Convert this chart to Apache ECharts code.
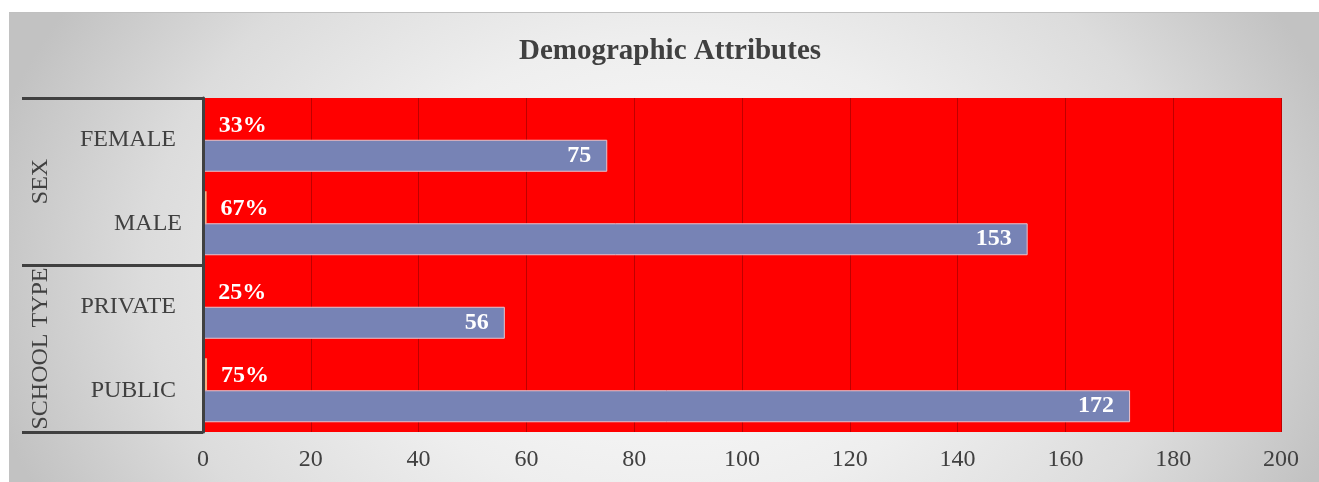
<!DOCTYPE html>
<html>
<head>
<meta charset="utf-8">
<script src="https://cdn.jsdelivr.net/npm/echarts@6/dist/echarts.min.js"></script>
<style>
  html, body { margin: 0; padding: 0; background: #ffffff; }
  #frame {
    position: absolute; left: 9px; top: 12px; width: 1310px; height: 470px;
    border-top: 1px solid #c0c0c0; box-sizing: border-box;
    background: radial-gradient(ellipse 700px 520px at 50.5% 55%, #fdfdfd 0%, #eeeeee 45%, #dcdcdc 75%, #c2c2c2 100%);
  }
  #chart { position: absolute; left: 0; top: 0; width: 1319px; height: 482px; }
</style>
</head>
<body>
<div id="frame"></div>
<div id="chart"></div>
<script>
// Demographic breakdown: respondent counts and their share within each group
const categories = ['FEMALE', 'MALE', 'PRIVATE', 'PUBLIC'];
const groups = ['SEX', 'SCHOOL TYPE'];
const counts = [75, 153, 56, 172];
const shares = [0.33, 0.67, 0.25, 0.75];
const axisMin = 0;
const axisMax = 200;
const axisStep = 20;

const serif = 'Liberation Serif';
const ink = '#404040';
const fs = 24;

const chart = echarts.init(document.getElementById('chart'), null, { renderer: 'canvas' });

chart.setOption({
  backgroundColor: 'transparent',
  animation: false,
  title: {
    text: 'Demographic Attributes',
    left: 519,
    top: 37,
    padding: 0,
    textStyle: { fontFamily: serif, fontWeight: 'bold', fontSize: 29, color: ink }
  },
  grid: {
    left: 203, right: 38, top: 98, bottom: 50,
    show: true, backgroundColor: '#ff0000', borderWidth: 0
  },
  xAxis: {
    type: 'value',
    min: axisMin, max: axisMax, interval: axisStep,
    axisLine: { show: false },
    axisTick: { show: false },
    splitLine: { show: true, lineStyle: { color: '#bf0000', width: 1 } },
    axisLabel: { color: ink, fontFamily: serif, fontSize: fs, margin: 16 }
  },
  yAxis: [
    {
      type: 'category',
      data: categories,
      inverse: true,
      z: 5,
      axisLine: { show: true, lineStyle: { color: ink, width: 3 } },
      axisTick: { show: false },
      axisLabel: {
        interval: 0,
        color: ink, fontFamily: serif, fontSize: fs, margin: 21,
        formatter: function (v) { return v === 'MALE' ? '{m|' + v + '}' : '{p|' + v + '}'; },
        rich: {
          m: { color: ink, fontFamily: serif, fontSize: fs },
          p: { color: ink, fontFamily: serif, fontSize: fs, padding: [0, 6, 0, 0] }
        }
      }
    },
    {
      type: 'category',
      data: groups,
      inverse: true,
      position: 'left',
      offset: 0,
      z: 5,
      axisLine: { show: false },
      axisTick: { show: true, interval: 0, length: 181, lineStyle: { color: ink, width: 3 } },
      axisLabel: {
        interval: 0, hideOverlap: false,
        color: ink, fontFamily: serif, fontSize: fs, rotate: 90, margin: 150
      }
    }
  ],
  series: [
    {
      name: 'Share',
      type: 'bar',
      yAxisIndex: 0,
      data: shares,
      barWidth: 32,
      barGap: '0%',
      itemStyle: { color: '#f4b183' },
      label: {
        show: true, position: 'right', distance: 14, offset: [0, 2],
        color: '#ffffff', fontFamily: serif, fontWeight: 'bold', fontSize: fs,
        formatter: function (p) { return Math.round(p.value * 100) + '%'; }
      }
    },
    {
      name: 'Count',
      type: 'bar',
      yAxisIndex: 0,
      data: counts,
      barWidth: 32,
      barGap: '0%',
      itemStyle: { color: '#7783b5', borderColor: '#e6c3cc', borderWidth: 1 },
      label: {
        show: true, position: 'insideRight', distance: 16,
        color: '#ffffff', fontFamily: serif, fontWeight: 'bold', fontSize: fs
      }
    }
  ]
});
</script>
</body>
</html>
